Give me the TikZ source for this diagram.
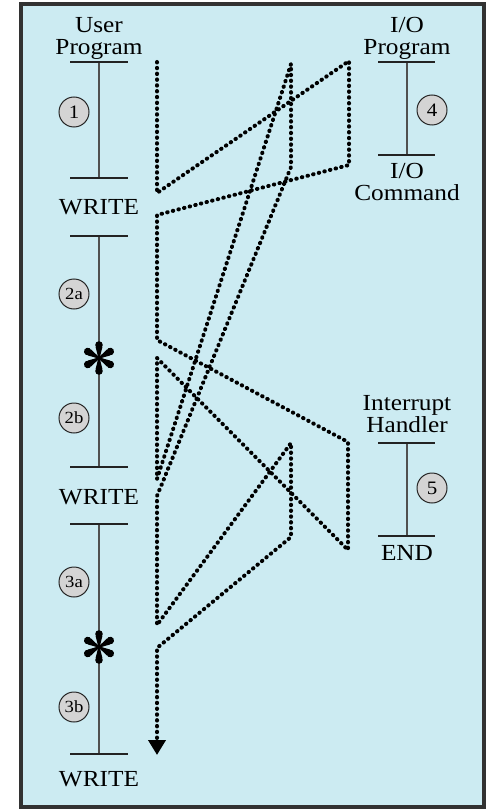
\documentclass[tikz,border=0pt]{standalone}
\usepackage{fontspec}
\setmainfont{Liberation Serif}[FakeStretch=1.1]
\usetikzlibrary{arrows.meta}
\definecolor{bgblue}{RGB}{204,235,242}
\definecolor{circfill}{RGB}{212,212,212}
\definecolor{framecol}{RGB}{50,50,50}
\definecolor{barcol}{RGB}{35,35,35}
\definecolor{vcol}{RGB}{80,80,80}
\begin{document}
\begin{tikzpicture}[x=1pt,y=-1pt,
  lbl/.style={inner sep=0pt, align=center, font=\fontsize{23}{22}\selectfont},
  ttl/.style={lbl, text depth=0pt, anchor=south},
  barline/.style={line width=1.8pt, draw=barcol},
  vline/.style={line width=1.9pt, draw=vcol},
  numcirc/.style={circle, draw=black!85, line width=1pt, fill=circfill, minimum size=30pt, inner sep=0pt, font=\fontsize{19}{19}\selectfont},
  subcirc/.style={numcirc, font=\fontsize{17}{17}\selectfont},
  dotline/.style={line width=4pt, line cap=round, line join=round, dash pattern=on 0.5pt off 5.3pt, draw=black},
  spoke/.pic={\fill (0,-0.9) .. controls (5,-1.6) and (8,-2.8) .. (11,-3.4) -- (11,3.4) .. controls (8,2.8) and (5,1.6) .. (0,0.9) -- cycle;
              \fill (13,0) circle (3.8);}
]
\useasboundingbox (0,0) rectangle (489,810);
\fill[bgblue] (21,4) rectangle (484,807);
\draw[line width=3.6pt, framecol] (21,4) rectangle (484,807);

% ---------- left column: user program ----------
\node[ttl] (uptitle) at (99,55) {User\\Program};
\coordinate (L1t) at (99,62);  \coordinate (L1b) at (99,178);
\coordinate (L2t) at (99,236); \coordinate (L2b) at (99,467);
\coordinate (L3t) at (99,524); \coordinate (L3b) at (99,754);
\draw[vline] (L1t) -- (L1b);
\draw[vline] (L2t) -- (L2b);
\draw[vline] (L3t) -- (L3b);
\foreach \y in {62,178,236,467,524,754}{\draw[barline] (70,\y) -- (128,\y);}
\node[lbl] (w1) at (99,207) {WRITE};
\node[lbl] (w2) at (99,497) {WRITE};
\node[lbl] (w3) at (99,779) {WRITE};
\node[numcirc] (c1) at (74,112) {1};
\node[subcirc] (c2a) at (74,294) {2a};
\node[subcirc] (c2b) at (74,418) {2b};
\node[subcirc] (c3a) at (74,582) {3a};
\node[subcirc] (c3b) at (74,707) {3b};
\foreach \a in {30,90,...,330}{
  \pic[rotate=\a] at (99,358) {spoke};
  \pic[rotate=\a] at (99,647) {spoke};
}

% ---------- right column ----------
\node[ttl] (iotitle) at (407,55) {I/O\\Program};
\draw[vline] (407,62) -- (407,155);
\draw[barline] (378,62) -- (435,62);
\draw[barline] (378,155) -- (435,155);
\node[numcirc] (c4) at (432,110) {4};
\node[ttl] (iocmd) at (407,201) {I/O\\Command};

\node[ttl] (ihtitle) at (407,433) {Interrupt\\Handler};
\draw[vline] (407,443) -- (407,536);
\draw[barline] (378,443) -- (435,443);
\draw[barline] (378,536) -- (435,536);
\node[numcirc] (c5) at (432,488) {5};
\node[lbl] (endl) at (407,553) {END};

% ---------- flow of control ----------
\coordinate (p1) at (157,62);
\coordinate (p2) at (157,193);
\coordinate (p3) at (349,61);
\coordinate (p4) at (349,165);
\coordinate (p5) at (157,215);
\coordinate (p6) at (157,340);
\coordinate (p7) at (348,442);
\coordinate (p8) at (348,550);
\coordinate (p9) at (157,358);
\coordinate (p10) at (157,479);
\coordinate (p11) at (291,64);
\coordinate (p12) at (291,167);
\coordinate (p13) at (157,496);
\coordinate (p14) at (157,625);
\coordinate (p15) at (291,443);
\coordinate (p16) at (291,537);
\coordinate (p17) at (157,648);
\coordinate (p18) at (157,755);
\draw[dotline, -{Triangle[length=15pt,width=17pt]}]
  (p1) -- (p2) -- (p3) -- (p4) -- (p5) -- (p6) -- (p7) -- (p8) -- (p9)
  -- (p10) -- (p11) -- (p12) -- (p13) -- (p14) -- (p15) -- (p16) -- (p17) -- (p18);
\end{tikzpicture}
\end{document}
